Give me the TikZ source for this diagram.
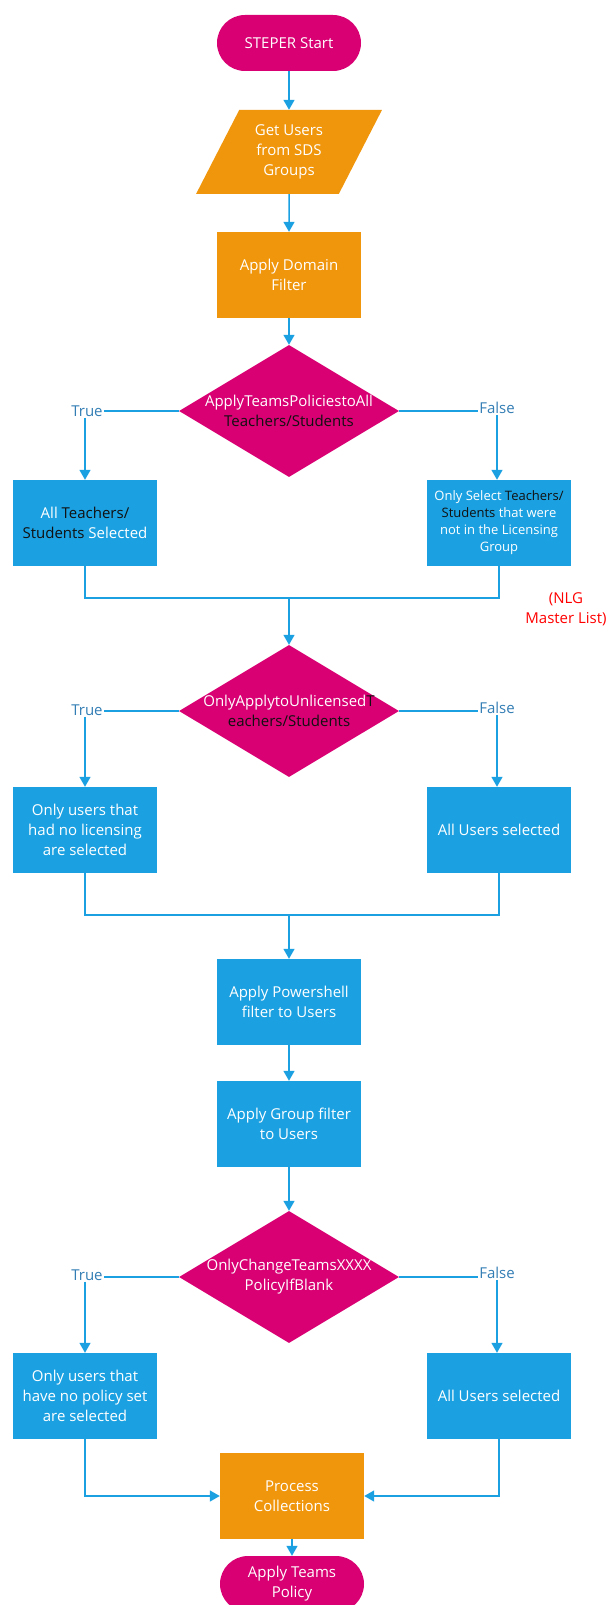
\documentclass[tikz,border=0pt]{standalone}
\usepackage{fontspec}
\setmainfont{Open Sans}
\usetikzlibrary{calc}
\usetikzlibrary{arrows.meta}
\usetikzlibrary{shapes.geometric}

\definecolor{stmag}{RGB}{216,0,115}
\definecolor{storange}{RGB}{240,150,12}
\definecolor{stblue}{RGB}{27,161,226}
\definecolor{stlabel}{RGB}{50,125,180}
\definecolor{stdark}{RGB}{17,17,17}

\begin{document}
\begin{tikzpicture}[x=1pt, y=-1pt,
    every node/.style={font=\fontsize{15pt}{20pt}\selectfont},
    term/.style={fill=stmag, text=white, rounded corners=28pt, minimum width=144pt, minimum height=56pt, align=center},
    io/.style={trapezium, trapezium left angle=62, trapezium right angle=118, trapezium stretches=true, fill=storange, text=white, minimum width=186pt, minimum height=84pt, align=center},
    proc/.style={fill=storange, text=white, minimum width=144pt, minimum height=86pt, align=center},
    sel/.style={fill=stblue, text=white, minimum width=144pt, minimum height=86pt, align=center},
    dec/.style={diamond, fill=stmag, minimum width=220pt, minimum height=132pt, inner sep=0pt},
    dtext/.style={text=white, align=center},
    branch/.style={text=stlabel, inner sep=1pt},
    link/.style={draw=stblue, line width=1.5pt},
    flow/.style={link, -{Triangle[width=11pt,length=10pt]}}]

    \useasboundingbox (0,0) rectangle (607,1605);

    % Place the main column
    \node[term] (start)  at (289,43)  {STEPER Start};
    \node[io]   (users)  at (289,152) {Get Users\\from SDS\\Groups};
    \node[proc] (domain) at (289,275) {Apply Domain\\Filter};

    % First decision
    \node[dec, label={[dtext]center:{ApplyTeamsPoliciestoAll\\\textcolor{stdark}{Teachers/Students}}}] (d1) at (289,411) {};
    \node[branch] (t1) at (87,411)  {True};
    \node[branch] (f1) at (497,408) {False};
    \node[sel] (l1) at (85,523)  {All \textcolor{stdark}{Teachers/}\\\textcolor{stdark}{Students} Selected};
    \node[sel, font=\fontsize{13pt}{17pt}\selectfont] (r1) at (499,523)
        {Only Select \textcolor{stdark}{Teachers/}\\\textcolor{stdark}{Students} that were\\not in the Licensing\\Group};
    \coordinate (m1) at (289,598);
    \node[text=red, align=center] (nlg) at (566,609) {(NLG\\Master List)};

    % Second decision
    \node[dec, label={[dtext]center:{OnlyApplytoUnlicensed\textcolor{stdark}{T}\\\textcolor{stdark}{eachers/Students}}}] (d2) at (289,711) {};
    \node[branch] (t2) at (87,710)  {True};
    \node[branch] (f2) at (497,708) {False};
    \node[sel] (l2) at (85,830)  {Only users that\\had no licensing\\are selected};
    \node[sel] (r2) at (499,830) {All Users selected};
    \coordinate (m2) at (289,915);

    % Filters
    \node[sel] (ps)  at (289,1002) {Apply Powershell\\filter to Users};
    \node[sel] (grp) at (289,1124) {Apply Group filter\\to Users};

    % Third decision
    \node[dec, label={[dtext]center:{OnlyChangeTeamsXXXX\\PolicyIfBlank}}] (d3) at (289,1277) {};
    \node[branch] (t3) at (87,1275)  {True};
    \node[branch] (f3) at (497,1273) {False};
    \node[sel] (l3) at (85,1396)  {Only users that\\have no policy set\\are selected};
    \node[sel] (r3) at (499,1396) {All Users selected};

    % End of the flow
    \node[proc] (coll) at (292,1496) {Process\\Collections};
    \node[term] (stop) at (292,1584) {Apply Teams\\Policy};

    % Draw the connectors
    \draw[flow] (start) -- (users);
    \draw[flow] (users) -- (domain);
    \draw[flow] (domain) -- (d1);
    \draw[link] (d1.west) -- (d1.west -| t1.east);
    \draw[link] (d1.east) -- (d1.east -| f1.west);
    \draw[flow] (l1.north |- t1.south) -- (l1.north);
    \draw[flow] (f1.south) -- (f1.south |- r1.north);
    \draw[link] (l1.south) |- (m1) -| (r1.south);
    \draw[flow] (m1) -- (d2.north);
    \draw[link] (d2.west) -- (d2.west -| t2.east);
    \draw[link] (d2.east) -- (d2.east -| f2.west);
    \draw[flow] (l2.north |- t2.south) -- (l2.north);
    \draw[flow] (f2.south) -- (f2.south |- r2.north);
    \draw[link] (l2.south) |- (m2) -| (r2.south);
    \draw[flow] (m2) -- (ps.north);
    \draw[flow] (ps) -- (grp);
    \draw[flow] (grp) -- (d3);
    \draw[link] (d3.west) -- (d3.west -| t3.east);
    \draw[link] (d3.east) -- (d3.east -| f3.west);
    \draw[flow] (l3.north |- t3.south) -- (l3.north);
    \draw[flow] (f3.south) -- (f3.south |- r3.north);
    \draw[flow] (l3.south) |- (coll.west);
    \draw[flow] (r3.south) |- (coll.east);
    \draw[flow] (coll) -- (stop);

\end{tikzpicture}
\end{document}
